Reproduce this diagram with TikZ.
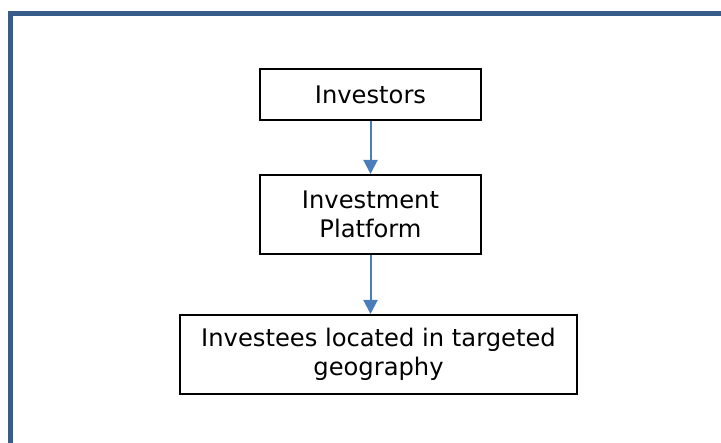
\documentclass[tikz,border=0pt]{standalone}
\usepackage{fontspec}
\setmainfont{DejaVu Sans}
\usetikzlibrary{arrows.meta}
\definecolor{framecol}{HTML}{385D8A}
\definecolor{arrowcol}{HTML}{4A7EBB}
\tikzset{
  box/.style={draw=black, line width=2pt, align=center, inner sep=0pt,
    font=\fontsize{24.2pt}{28.5pt}\selectfont},
  flow/.style={draw=arrowcol, line width=2pt, -{Triangle[width=14pt,length=14pt]}},
}
\begin{document}
\begin{tikzpicture}[x=1pt,y=-1pt]
\useasboundingbox (0,0) rectangle (721,443);
\begin{scope}
\clip (0,0) rectangle (721,443);
\draw[framecol, line width=5pt] (10.5,13.5) rectangle (760,480);
\end{scope}
\node[box, minimum width=221pt, minimum height=51pt] (inv) at (370.5,94.5) {Investors};
\node[box, minimum width=221pt, minimum height=79pt] (plat) at (370.5,214.5) {Investment\\Platform};
\node[box, minimum width=397pt, minimum height=79pt] (invs) at (378.5,354.5) {Investees located in targeted\\geography};
\draw[flow] (inv.south) -- (plat.north);
\draw[flow] (plat.south) -- (plat.south |- invs.north);
\end{tikzpicture}
\end{document}
